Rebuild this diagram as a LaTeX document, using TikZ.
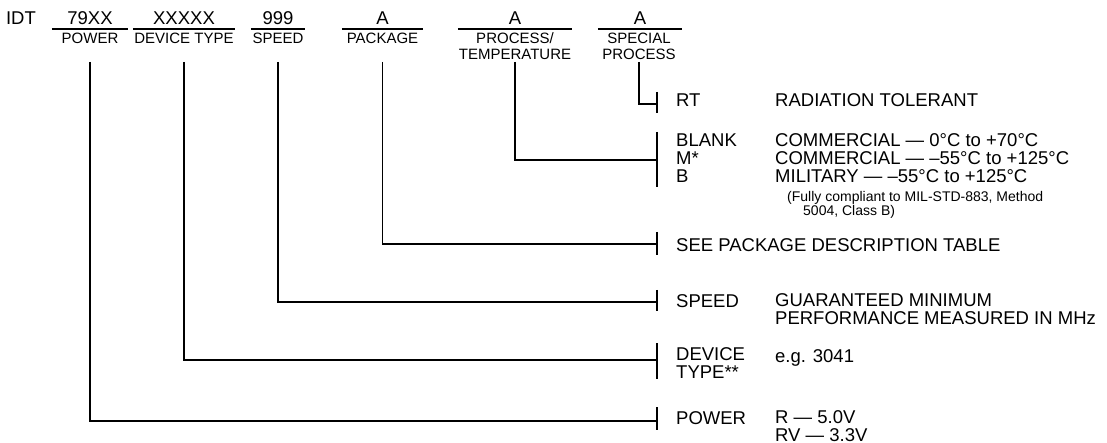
\documentclass[tikz,border=0pt]{standalone}
\usepackage{fontspec}
\setmainfont{Liberation Sans}
\tikzset{
codetxt/.style={anchor=base,inner sep=0pt,font=\fontsize{18.5}{18}\selectfont},
captxt/.style={anchor=base,inner sep=0pt,align=center,font=\fontsize{15}{16}\selectfont},
rowtxt/.style={anchor=base west,inner sep=0pt,align=left,font=\fontsize{18.5}{18}\selectfont},
notetxt/.style={anchor=base west,inner sep=0pt,align=left,font=\fontsize{14}{11.5}\selectfont},
codebar/.style={line width=2pt},
leadln/.style={line width=1.6pt},
tickln/.style={line width=2pt}
}
\begin{document}
\begin{tikzpicture}[x=1pt,y=-1pt]
\useasboundingbox (0,0) rectangle (1107,443);
% ordering code fields
\node[codetxt] (idt) at (21,25) {IDT};
\node[codetxt,minimum width=76pt] (c1) at (90,25) {79XX};
\node[codetxt,minimum width=102pt] (c2) at (184,25) {XXXXX};
\node[codetxt,minimum width=54pt] (c3) at (278,25) {999};
\node[codetxt,minimum width=81pt] (c4) at (382.5,25) {A};
\node[codetxt,minimum width=114pt] (c5) at (515,25) {A};
\node[codetxt,minimum width=84pt] (c6) at (640,25) {A};
\foreach \c in {c1,c2,c3,c4,c5,c6}
  \draw[codebar] ([yshift=-4pt]\c.south west) -- ([yshift=-4pt]\c.south east);
\node[captxt] (p1) at (90,44) {POWER};
\node[captxt] (p2) at (184,44) {DEVICE TYPE};
\node[captxt] (p3) at (278,44) {SPEED};
\node[captxt] (p4) at (382.5,44) {PACKAGE};
\node[captxt] (p5) at (515,60) {PROCESS/\\TEMPERATURE};
\node[captxt] (p6) at (639,60) {SPECIAL\\PROCESS};
% rows on the right (multi-line nodes sit on their last line)
\node[rowtxt] (r6) at (676,107) {RT};
\node[rowtxt] (d6) at (775,107) {RADIATION TOLERANT};
\node[rowtxt] (r5) at (676,183) {BLANK\\M*\\B};
\node[rowtxt] (d5) at (775,183) {COMMERCIAL — 0°C to +70°C\\COMMERCIAL — –55°C to +125°C\\MILITARY — –55°C to +125°C};
\node[notetxt] (n5) at (787,215.5) {(Fully compliant to MIL-STD-883, Method\\\hspace*{16pt}5004, Class B)};
\node[rowtxt] (r4) at (676,252) {SEE PACKAGE DESCRIPTION TABLE};
\node[rowtxt] (r3) at (676,307) {SPEED};
\node[rowtxt] (d3) at (775,324) {GUARANTEED MINIMUM\\PERFORMANCE MEASURED IN MHz};
\node[rowtxt] (r2) at (676,378.5) {DEVICE\\TYPE**};
\node[rowtxt] (d2) at (775,362) {e.g. 3041};
\node[rowtxt] (r1) at (676,424) {POWER};
\node[rowtxt] (d1) at (775,441) {R — 5.0V\\RV — 3.3V};
% leads and ticks
\coordinate (vtop) at (0,62);
\coordinate (k6) at (657,104);
\coordinate (k5) at (657,160);
\coordinate (k4) at (657,244);
\coordinate (k3) at (657,302);
\coordinate (k2) at (657,360);
\coordinate (k1) at (657,421);
\foreach \c/\k in {c1/k1,c2/k2,c3/k3,c4/k4,c5/k5}
  \draw[leadln] (\c |- vtop) |- (\k);
\draw[leadln] (p6 |- vtop) |- (k6);
\foreach \k/\u/\d in {k6/12/9,k5/28/27,k4/12/11,k3/12/9,k2/17/19,k1/14/9}
  \draw[tickln] ([yshift=\u pt]\k) -- ([yshift=-\d pt]\k);
\end{tikzpicture}
\end{document}
